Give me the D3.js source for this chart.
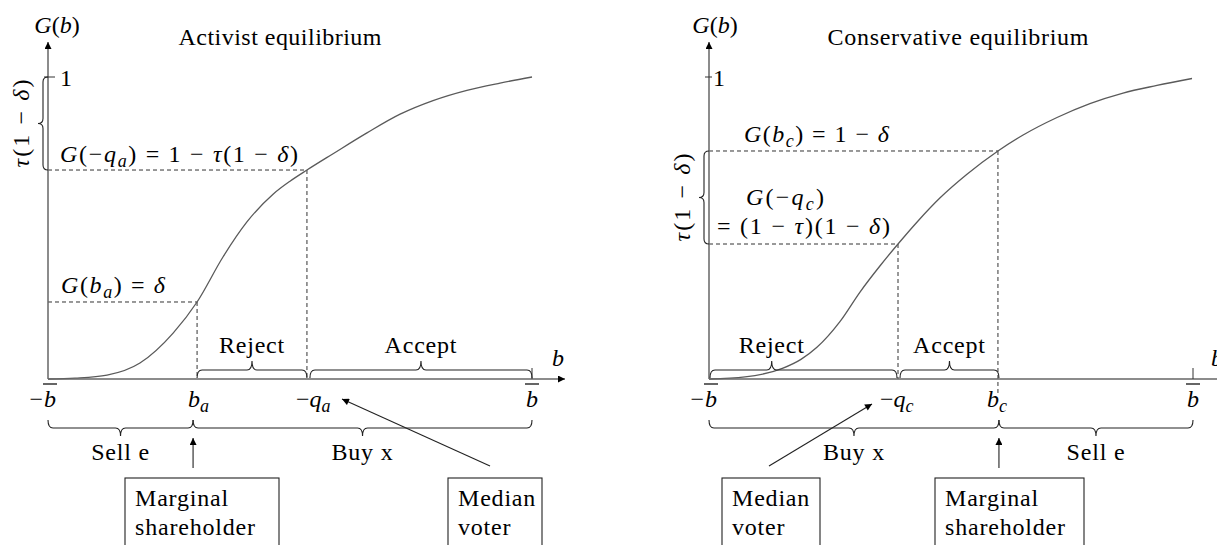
<!DOCTYPE html>
<html>
<head>
<meta charset="utf-8">
<script src="https://cdn.jsdelivr.net/npm/d3@7"></script>
<style>
  body { margin: 0; background: #fff; }
  svg text { font-family: "Liberation Serif", "Times New Roman", serif; font-size: 24px; fill: #000; }
</style>
</head>
<body>
<div id="chart"></div>
<script>
// G(b), b in units of b-bar (-1..1), G in 0..1
var activistB = [-1, -0.888, -0.756, -0.620, -0.483, -0.384, -0.277, -0.178, -0.070, 0.000, 0.070, 0.178, 0.318, 0.455, 0.591, 0.731, 0.868, 1];
var activistG = [0, 0.003, 0.013, 0.053, 0.152, 0.255, 0.404, 0.520, 0.612, 0.655, 0.692, 0.746, 0.815, 0.877, 0.922, 0.956, 0.980, 1.0];
var conservativeB = [-1, -0.851, -0.694, -0.620, -0.554, -0.459, -0.376, -0.293, -0.219, -0.140, -0.045, 0.066, 0.194, 0.298, 0.438, 0.574, 0.711, 0.851, 0.996];
var conservativeG = [0, 0.007, 0.036, 0.065, 0.105, 0.190, 0.288, 0.375, 0.447, 0.520, 0.600, 0.678, 0.755, 0.808, 0.866, 0.912, 0.947, 0.972, 0.995];

// cut points on b and the matching G levels
var activistCuts = [-0.384, 0.070];      // b_a, -q_a
var activistLevels = [0.255, 0.692];     // delta, 1 - tau(1 - delta)
var conservativeCuts = [-0.219, 0.194];  // -q_c, b_c
var conservativeLevels = [0.447, 0.755]; // (1 - tau)(1 - delta), 1 - delta

var titles = ["Activist equilibrium", "Conservative equilibrium"];
var activistRegions = ["Reject", "Accept"];
var conservativeRegions = ["Reject", "Accept"];
var activistActions = ["Sell e", "Buy x"];
var conservativeActions = ["Buy x", "Sell e"];
var activistBoxes = [["Marginal", "shareholder"], ["Median", "voter"]];
var conservativeBoxes = [["Median", "voter"], ["Marginal", "shareholder"]];

// math labels: [text, style]  i = italic, s = italic subscript
var gAxisLabel = [["G", "i"], ["("], ["b", "i"], [")"]];
var tauLabel = [["τ", "i"], ["(1 − "], ["δ", "i"], [")"]];
var activistLevelLabels = [
  [["G", "i"], ["("], ["b", "i"], ["a", "s"], [")"], [" = "], ["δ", "i"]],
  [["G", "i"], ["("], ["−"], ["q", "i"], ["a", "s"], [")"], [" = 1 − "], ["τ", "i"], ["(1 − "], ["δ", "i"], [")"]]
];
var activistCutLabels = [[["b", "i"], ["a", "s"]], [["−"], ["q", "i"], ["a", "s"]]];
var conservativeLevelLabels = [
  [["G", "i"], ["("], ["−"], ["q", "i"], ["c", "s"], [")"]],
  [["= (1 − "], ["τ", "i"], [")(1 − "], ["δ", "i"], [")"]],
  [["G", "i"], ["("], ["b", "i"], ["c", "s"], [")"], [" = 1 − "], ["δ", "i"]]
];
var conservativeCutLabels = [[["−"], ["q", "i"], ["c", "s"]], [["b", "i"], ["c", "s"]]];

var svg = d3.select("#chart").append("svg")
    .attr("width", 1217)
    .attr("height", 545);

svg.append("defs").append("marker")
    .attr("id", "tri")
    .attr("viewBox", "0 0 10 10")
    .attr("refX", 10).attr("refY", 5)
    .attr("markerWidth", 9).attr("markerHeight", 7)
    .attr("markerUnits", "userSpaceOnUse")
    .attr("orient", "auto")
  .append("path")
    .attr("d", "M0,0L10,5L0,10z")
    .attr("fill", "#000");

function math(parent, x, y, segs, opts) {
  opts = opts || {};
  var t = parent.append("text")
      .attr("x", x).attr("y", y)
      .attr("text-anchor", opts.anchor || "start");
  if (opts.len) t.attr("textLength", opts.len).attr("lengthAdjust", "spacing");
  if (opts.rotate) t.attr("transform", "rotate(-90," + x + "," + y + ")");
  var shift = 0;
  segs.forEach(function(s) {
    var sp = t.append("tspan").text(s[0]);
    var st = s[1] || "";
    if (st) sp.style("font-style", "italic");
    if (st === "s") {
      sp.attr("dy", 5 - shift).style("font-size", "18px");
      shift = 5;
    } else if (shift) {
      sp.attr("dy", -shift);
      shift = 0;
    }
  });
  return t;
}

function plain(parent, x, y, str, anchor) {
  return parent.append("text")
      .attr("x", x).attr("y", y)
      .attr("text-anchor", anchor || "start")
      .style("letter-spacing", "0.8px")
      .text(str);
}

// horizontal curly brace, ends at yEnd, tip at yTip
function hBrace(g, x1, x2, yEnd, yBody, yTip, tipX) {
  var r = 5, p = d3.path();
  p.moveTo(x1, yEnd);
  p.quadraticCurveTo(x1, yBody, x1 + r, yBody);
  p.lineTo(tipX - r, yBody);
  p.quadraticCurveTo(tipX, yBody, tipX, yTip);
  p.quadraticCurveTo(tipX, yBody, tipX + r, yBody);
  p.lineTo(x2 - r, yBody);
  p.quadraticCurveTo(x2, yBody, x2, yEnd);
  g.append("path").attr("d", p.toString())
      .attr("fill", "none").attr("stroke", "#222").attr("stroke-width", 1.1);
}

function vBrace(g, y1, y2, xEnd, xBody, xTip, tipY) {
  var r = 5, p = d3.path();
  p.moveTo(xEnd, y1);
  p.quadraticCurveTo(xBody, y1, xBody, y1 + r);
  p.lineTo(xBody, tipY - r);
  p.quadraticCurveTo(xBody, tipY, xTip, tipY);
  p.quadraticCurveTo(xBody, tipY, xBody, tipY + r);
  p.lineTo(xBody, y2 - r);
  p.quadraticCurveTo(xBody, y2, xEnd, y2);
  g.append("path").attr("d", p.toString())
      .attr("fill", "none").attr("stroke", "#222").attr("stroke-width", 1.1);
}

function bBar(g, cx, y, minus) {
  g.append("text").attr("x", cx).attr("y", y).attr("text-anchor", "middle")
      .style("font-style", "italic").text("b");
  g.append("line").attr("x1", cx - 7).attr("x2", cx + 7)
      .attr("y1", y - 23).attr("y2", y - 23)
      .attr("stroke", "#000").attr("stroke-width", 1.2);
  if (minus) g.append("text").attr("x", cx - 7).attr("y", y).attr("text-anchor", "end").text("−");
}

function panel(o) {
  var x = d3.scaleLinear().domain([-1, 1]).range([o.left, o.left + 484]);
  var y = d3.scaleLinear().domain([0, 1]).range([379, 77]);
  var g = svg.append("g");
  var x0 = x(-1), y0 = y(0);

  // dashed guides
  o.cuts.forEach(function(c, i) {
    g.append("line")
        .attr("x1", x0).attr("x2", x(c))
        .attr("y1", y(o.levels[i])).attr("y2", y(o.levels[i]))
        .attr("stroke", "#333").attr("stroke-width", 1).attr("stroke-dasharray", "4,3");
    g.append("line")
        .attr("x1", x(c)).attr("x2", x(c))
        .attr("y1", y(o.levels[i])).attr("y2", y0 + (o.dropBelow[i] || 0))
        .attr("stroke", "#333").attr("stroke-width", 1).attr("stroke-dasharray", "4,3");
  });

  // curve
  var pts = o.bVals.map(function(b, i) { return [b, o.gVals[i]]; });
  g.append("path")
      .attr("d", d3.line().x(function(d) { return x(d[0]); }).y(function(d) { return y(d[1]); })
        .curve(d3.curveMonotoneX)(pts))
      .attr("fill", "none").attr("stroke", "#5a5a5a").attr("stroke-width", 1.3);

  // axes
  g.append("line").attr("x1", x0).attr("y1", y0).attr("x2", x0).attr("y2", 42)
      .attr("stroke", "#666").attr("stroke-width", 1.5).attr("marker-end", "url(#tri)");
  g.append("line").attr("x1", x0).attr("y1", y0).attr("x2", o.axisEnd).attr("y2", y0)
      .attr("stroke", "#666").attr("stroke-width", 1.5).attr("marker-end", "url(#tri)");
  g.append("line").attr("x1", x(1)).attr("x2", x(1)).attr("y1", y0 - 11).attr("y2", y0)
      .attr("stroke", "#333").attr("stroke-width", 1);
  g.append("line").attr("x1", o.tick1[0]).attr("x2", o.tick1[1]).attr("y1", y(1)).attr("y2", y(1))
      .attr("stroke", "#333").attr("stroke-width", 1);

  math(g, x0 + o.gLabelShift, 33, gAxisLabel, { anchor: "middle" });
  g.append("text").attr("x", o.titleX).attr("y", 45).attr("text-anchor", "middle")
      .attr("textLength", o.titleLen).attr("lengthAdjust", "spacing").text(o.title);
  g.append("text").attr("x", o.oneX).attr("y", y(1) + 9).text("1");
  plain(g, o.bLabelX, 366, "b").style("font-style", "italic");

  // tau(1 - delta) brace on the G axis
  var ty0 = y(o.tauSpan[0]), ty1 = y(o.tauSpan[1]);
  vBrace(g, ty1, ty0, x0, x0 - 5, x0 - 10, (ty0 + ty1) / 2);
  math(g, x0 - 19, (ty0 + ty1) / 2, tauLabel, { anchor: "middle", rotate: true, len: 88 });

  // level labels
  o.levelText.forEach(function(l) { math(g, l.x, l.y, l.segs, { len: l.len }); });

  // region braces above the axis
  var edges = o.rejectFromStart
    ? [[x0 + 1, x(o.cuts[0]) - 1], [x(o.cuts[0]) + 2, x(o.cuts[1]) + 1]]
    : [[x(o.cuts[0]), x(o.cuts[1])], [x(o.cuts[1]) + 3, x(1)]];
  o.regions.forEach(function(r, i) {
    var e = edges[i];
    var tip = e[0] + (e[1] - e[0]) * o.regionTip[i];
    hBrace(g, e[0], e[1], y0 - 1, y0 - 9, y0 - 18, tip);
    plain(g, tip, 353, r, "middle");
  });

  // labels under the axis
  bBar(g, x0 + 2, 407, true);
  bBar(g, x(1), 407, false);
  o.cutLabels.forEach(function(l, i) { math(g, x(o.cuts[i]) + o.cutOffsets[i], 407, l); });

  // action braces below the axis
  var jx = x(o.cuts[o.junction]) + o.junctionShift;
  [[x0, jx], [jx, x(1)]].forEach(function(e, i) {
    var tip = (e[0] + e[1]) / 2;
    hBrace(g, e[0], e[1], 420, 428, 436, tip);
    plain(g, tip, 460, o.actions[i], "middle");
  });

  // pointer arrows
  g.append("line").attr("x1", jx).attr("x2", jx).attr("y1", 468).attr("y2", 438)
      .attr("stroke", "#222").attr("stroke-width", 1.1).attr("marker-end", "url(#tri)");
  g.append("line").attr("x1", o.voterArrow[0]).attr("y1", o.voterArrow[1])
      .attr("x2", o.voterArrow[2]).attr("y2", o.voterArrow[3])
      .attr("stroke", "#222").attr("stroke-width", 1.1).attr("marker-end", "url(#tri)");

  // text boxes
  o.boxes.forEach(function(b, i) {
    var bx = o.boxX[i];
    g.append("rect").attr("x", bx[0]).attr("y", 478).attr("width", bx[1] - bx[0]).attr("height", 90)
        .attr("fill", "none").attr("stroke", "#222").attr("stroke-width", 1.1);
    plain(g, bx[0] + 10, 506, b[0]);
    plain(g, bx[0] + 10, 535, b[1]);
  });
}

panel({
  left: 48, axisEnd: 565,
  bVals: activistB, gVals: activistG,
  cuts: activistCuts, levels: activistLevels, dropBelow: [0, 0],
  title: titles[0], titleX: 280, titleLen: 203,
  oneX: 60, tick1: [44, 55], bLabelX: 552, gLabelShift: 9,
  tauSpan: [activistLevels[1], 1],
  levelText: [
    { x: 61, y: 293, segs: activistLevelLabels[0], len: 104 },
    { x: 60, y: 162, segs: activistLevelLabels[1], len: 238 }
  ],
  regions: activistRegions, regionTip: [0.5, 0.5],
  cutLabels: activistCutLabels, cutOffsets: [-9, -11],
  junction: 0, junctionShift: -4, actions: activistActions,
  voterArrow: [490, 466, 342, 399],
  boxes: activistBoxes, boxX: [[125, 279], [448, 542]]
});

panel({
  left: 709, axisEnd: 1226,
  bVals: conservativeB, gVals: conservativeG,
  cuts: conservativeCuts, levels: conservativeLevels, dropBelow: [0, 14],
  title: titles[1], titleX: 958, titleLen: 261,
  oneX: 713, tick1: [705, 712], bLabelX: 1211, gLabelShift: 6,
  tauSpan: [conservativeLevels[0], conservativeLevels[1]],
  levelText: [
    { x: 746, y: 205, segs: conservativeLevelLabels[0], len: 78 },
    { x: 717, y: 234, segs: conservativeLevelLabels[1], len: 173 },
    { x: 744, y: 142, segs: conservativeLevelLabels[2], len: 145 }
  ],
  regions: conservativeRegions, rejectFromStart: true, regionTip: [0.33, 0.5],
  cutLabels: conservativeCutLabels, cutOffsets: [-18, -11],
  junction: 1, junctionShift: 1, actions: conservativeActions,
  voterArrow: [769, 466, 872, 404],
  boxes: conservativeBoxes, boxX: [[722, 820], [935, 1084]]
});
</script>
</body>
</html>
